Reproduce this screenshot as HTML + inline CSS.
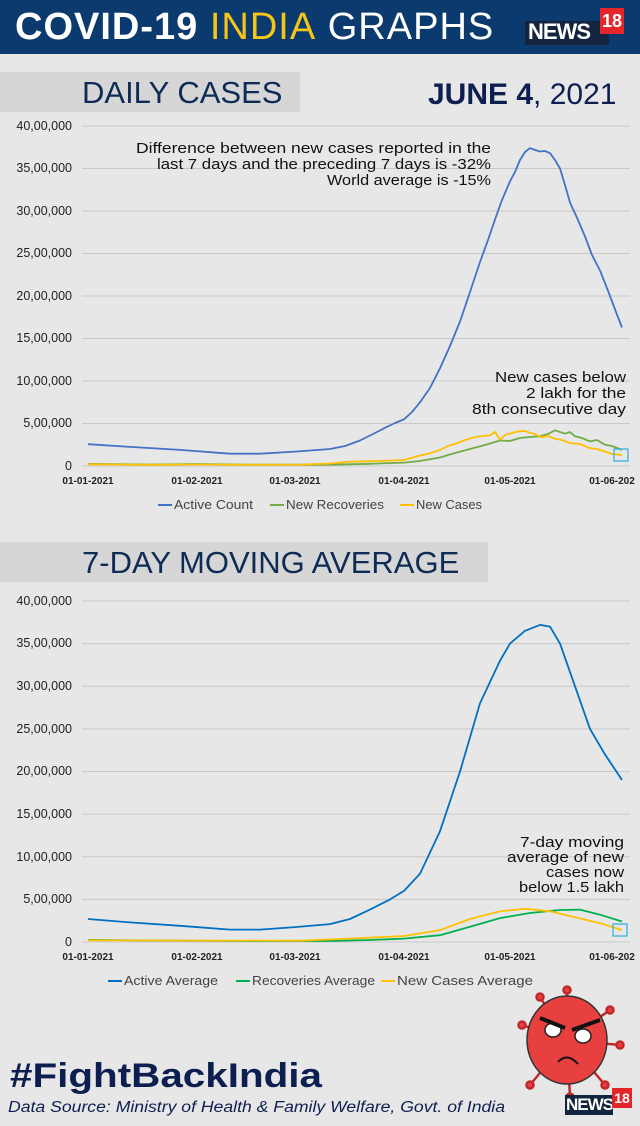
<!DOCTYPE html>
<html><head><meta charset="utf-8"><style>
body{margin:0;width:640px;height:1126px;background:#e8e7e8;font-family:"Liberation Sans",sans-serif;overflow:hidden;position:relative}
.hdr{position:absolute;left:0;top:0;width:640px;height:54px;background:#0b3a6e}
.t{position:absolute;white-space:nowrap}
</style></head><body>
<div class="hdr"></div>
<div class="t" style="left:15px;top:6px;font-size:38px;font-weight:bold;color:#fff;letter-spacing:1px">COVID-19 <span style="font-weight:normal;color:#f5c518">INDIA</span> <span style="font-weight:normal">GRAPHS</span></div>
<div class="t" style="left:525px;top:21px;width:84px;height:24px;background:#14243f"></div>
<div class="t" style="left:528px;top:19px;font-size:22px;font-weight:bold;color:#fff;letter-spacing:-1px">NEWS</div>
<div class="t" style="left:600px;top:8px;width:24px;height:26px;background:#e4262b;color:#fff;font-weight:bold;font-size:18px;text-align:center;line-height:26px">18</div>

<div class="t" style="left:0;top:72px;width:300px;height:40px;background:#d6d6d6"></div>
<div class="t" style="left:82px;top:75px;font-size:31px;color:#0d2b55">DAILY CASES</div>
<div class="t" style="left:428px;top:78px;font-size:30px;color:#0d1f50"><b>JUNE 4</b>, 2021</div>
<div class="t" style="left:0;top:542px;width:488px;height:40px;background:#d6d6d6"></div>
<div class="t" style="left:82px;top:545px;font-size:31px;color:#0d2b55">7-DAY MOVING AVERAGE</div>

<svg class="t" style="left:0;top:0" width="640" height="1126" font-family="Liberation Sans, sans-serif">
<g stroke="#c8c8c8" stroke-width="1">
<line x1="82" x2="630" y1="126" y2="126"/><line x1="82" x2="630" y1="168.5" y2="168.5"/><line x1="82" x2="630" y1="211" y2="211"/><line x1="82" x2="630" y1="253.5" y2="253.5"/><line x1="82" x2="630" y1="296" y2="296"/><line x1="82" x2="630" y1="338.5" y2="338.5"/><line x1="82" x2="630" y1="381" y2="381"/><line x1="82" x2="630" y1="423.5" y2="423.5"/><line x1="82" x2="630" y1="466" y2="466"/>
<line x1="82" x2="630" y1="601" y2="601"/><line x1="82" x2="630" y1="643.6" y2="643.6"/><line x1="82" x2="630" y1="686.2" y2="686.2"/><line x1="82" x2="630" y1="728.9" y2="728.9"/><line x1="82" x2="630" y1="771.5" y2="771.5"/><line x1="82" x2="630" y1="814.1" y2="814.1"/><line x1="82" x2="630" y1="856.7" y2="856.7"/><line x1="82" x2="630" y1="899.4" y2="899.4"/><line x1="82" x2="630" y1="942" y2="942"/>
</g>
<g font-size="12.5" fill="#222" text-anchor="end">
<text x="72" y="130">40,00,000</text><text x="72" y="172">35,00,000</text><text x="72" y="215">30,00,000</text><text x="72" y="257">25,00,000</text><text x="72" y="300">20,00,000</text><text x="72" y="342">15,00,000</text><text x="72" y="385">10,00,000</text><text x="72" y="427">5,00,000</text><text x="72" y="470">0</text>
<text x="72" y="605">40,00,000</text><text x="72" y="647">35,00,000</text><text x="72" y="690">30,00,000</text><text x="72" y="733">25,00,000</text><text x="72" y="775">20,00,000</text><text x="72" y="818">15,00,000</text><text x="72" y="861">10,00,000</text><text x="72" y="903">5,00,000</text><text x="72" y="946">0</text>
</g>
<g font-size="10" fill="#222" text-anchor="middle" font-weight="bold">
<text x="88" y="484">01-01-2021</text><text x="197" y="484">01-02-2021</text><text x="295" y="484">01-03-2021</text><text x="404" y="484">01-04-2021</text><text x="510" y="484">01-05-2021</text><text x="612" y="484">01-06-202</text>
<text x="88" y="960">01-01-2021</text><text x="197" y="960">01-02-2021</text><text x="295" y="960">01-03-2021</text><text x="404" y="960">01-04-2021</text><text x="510" y="960">01-05-2021</text><text x="612" y="960">01-06-202</text>
</g>
<g fill="none" stroke-width="1.8" stroke-linejoin="round">
<polyline stroke="#70ad47" points="88,463.9 150,464.5 200,464 250,464.6 330,464.7 370,463.8 404,462.6 420,461 440,457.5 455,453 470,449 485,445 500,440.5 510,441 520,438 530,437 540,436.3 548,434 555,430.3 560,432 565,433.7 570,432 575,436.3 582,438 590,441.4 597,440 605,444.8 612,446 622,449.9"/>
<polyline stroke="#ffc000" points="88,464.3 150,464.8 200,464.5 250,464.8 300,464.6 330,463.5 350,461.7 380,461 404,460 418,456 430,453.2 440,450 448,446 455,443.9 465,440 475,437.1 482,436 490,435.4 495,432 500,439.6 505,435 510,433.7 515,432 520,431.2 525,431 530,432.9 535,434 540,437.1 548,436 555,438.8 562,440 570,443.1 580,444 590,448.2 597,449 605,451.6 612,454 622,455"/>
<polyline stroke="#4472c4" points="88,444.2 130,446.9 180,449.9 230,453.7 260,453.7 295,451.6 330,449 345,446 360,440.5 375,433 385,427.8 395,423 404,419.3 412,412 420,402.3 430,388 440,368.3 450,346 460,321.5 470,292 480,262 488,240 495,219.5 502,200 510,181.3 515,172 520,160 525,152 530,148.1 535,150 540,151.5 545,151 550,153.2 555,160 560,168.5 565,185 570,202.5 578,220 585,236.5 592,255 600,270.5 605,283 610,296 616,312 622,327.5"/>

<polyline stroke="#00b050" points="88,939.9 150,940.5 250,941 330,941 370,940 404,938.6 440,935.2 470,926.7 500,918.1 530,913 560,910 580,909.6 600,914.7 622,921.5"/>
<polyline stroke="#ffc000" points="88,940.3 200,940.6 300,940.7 350,938.6 404,936 440,930.1 470,919 500,911.3 525,908.8 550,911.3 575,917.3 600,923.2 622,930.1"/>
<polyline stroke="#0070c0" points="88,919 130,922.4 180,925.8 230,929.6 260,929.6 295,927.1 330,924.1 350,919 370,909.6 390,899.4 404,890.9 420,873.8 440,831.2 460,771.5 480,703.3 500,660.7 510,643.6 525,630.8 540,624.9 550,626.6 560,643.6 575,686.3 590,728.9 605,754.4 622,780"/>
</g>
<rect x="614" y="449" width="14" height="12" fill="none" stroke="#2ab0e0" stroke-width="1.2"/>
<rect x="613" y="924" width="14" height="12" fill="none" stroke="#2ab0e0" stroke-width="1.2"/>
<g font-size="12.5" fill="#444">
<line x1="158" x2="172" y1="505" y2="505" stroke="#4472c4" stroke-width="2"/><text x="174" y="509" textLength="79" lengthAdjust="spacingAndGlyphs">Active Count</text>
<line x1="270" x2="284" y1="505" y2="505" stroke="#70ad47" stroke-width="2"/><text x="286" y="509" textLength="98" lengthAdjust="spacingAndGlyphs">New Recoveries</text>
<line x1="400" x2="414" y1="505" y2="505" stroke="#ffc000" stroke-width="2"/><text x="416" y="509" textLength="66" lengthAdjust="spacingAndGlyphs">New Cases</text>
<line x1="108" x2="122" y1="981" y2="981" stroke="#0070c0" stroke-width="2"/><text x="124" y="985" textLength="94" lengthAdjust="spacingAndGlyphs">Active Average</text>
<line x1="236" x2="250" y1="981" y2="981" stroke="#00b050" stroke-width="2"/><text x="252" y="985" textLength="123" lengthAdjust="spacingAndGlyphs">Recoveries Average</text>
<line x1="381" x2="395" y1="981" y2="981" stroke="#ffc000" stroke-width="2"/><text x="397" y="985" textLength="136" lengthAdjust="spacingAndGlyphs">New Cases Average</text>
</g>
<g font-size="14.5" fill="#111" text-anchor="end">
<text x="491" y="153" textLength="355" lengthAdjust="spacingAndGlyphs">Difference between new cases reported in the</text>
<text x="491" y="169" textLength="334" lengthAdjust="spacingAndGlyphs">last 7 days and the preceding 7 days is -32%</text>
<text x="491" y="185" textLength="164" lengthAdjust="spacingAndGlyphs">World average is -15%</text>
<text x="626" y="382" textLength="131" lengthAdjust="spacingAndGlyphs">New cases below</text><text x="626" y="398" textLength="100" lengthAdjust="spacingAndGlyphs">2 lakh for the</text><text x="626" y="414" textLength="154" lengthAdjust="spacingAndGlyphs">8th consecutive day</text>
<text x="624" y="847" textLength="104" lengthAdjust="spacingAndGlyphs">7-day moving</text><text x="624" y="862" textLength="117" lengthAdjust="spacingAndGlyphs">average of new</text><text x="624" y="877" textLength="78" lengthAdjust="spacingAndGlyphs">cases now</text><text x="624" y="892" textLength="105" lengthAdjust="spacingAndGlyphs">below 1.5 lakh</text>
</g>
<g stroke="#c0282c" stroke-width="2.5" fill="#e8403f">
<line x1="567" y1="1040" x2="567" y2="990"/><line x1="567" y1="1040" x2="610" y2="1010"/><line x1="567" y1="1040" x2="620" y2="1045"/><line x1="567" y1="1040" x2="605" y2="1085"/><line x1="567" y1="1040" x2="570" y2="1097"/><line x1="567" y1="1040" x2="530" y2="1085"/><line x1="567" y1="1040" x2="522" y2="1025"/><line x1="567" y1="1040" x2="540" y2="997"/>
<circle cx="567" cy="990" r="3.5"/><circle cx="610" cy="1010" r="3.5"/><circle cx="620" cy="1045" r="3.5"/><circle cx="605" cy="1085" r="3.5"/><circle cx="570" cy="1097" r="3.5"/><circle cx="530" cy="1085" r="3.5"/><circle cx="522" cy="1025" r="3.5"/><circle cx="540" cy="997" r="3.5"/>
<ellipse cx="567" cy="1040" rx="40" ry="44" stroke="#333" stroke-width="1.5"/>
</g>
<g fill="#fff" stroke="#222" stroke-width="1.5"><ellipse cx="553" cy="1030" rx="8" ry="7"/><ellipse cx="583" cy="1036" rx="8" ry="7"/></g>
<path d="M540 1018 L565 1028 M572 1030 L600 1020" stroke="#111" stroke-width="4"/>
<path d="M558 1062 Q567 1052 578 1064" stroke="#111" stroke-width="2" fill="none"/>
<text x="10" y="1087" font-size="34" font-weight="bold" fill="#0d1f50" textLength="312" lengthAdjust="spacingAndGlyphs">#FightBackIndia</text>
<text x="8" y="1112" font-size="15.5" font-style="italic" fill="#0d1f50" textLength="497" lengthAdjust="spacingAndGlyphs">Data Source:  Ministry of Health &amp; Family Welfare, Govt. of India</text>
</svg>

<div class="t" style="left:565px;top:1095px;width:48px;height:20px;background:#14243f"></div>
<div class="t" style="left:566px;top:1095px;font-size:17px;font-weight:bold;color:#fff;letter-spacing:-1px">NEWS</div>
<div class="t" style="left:612px;top:1088px;width:20px;height:20px;background:#e4262b;color:#fff;font-weight:bold;font-size:14px;text-align:center;line-height:20px">18</div>
</body></html>
